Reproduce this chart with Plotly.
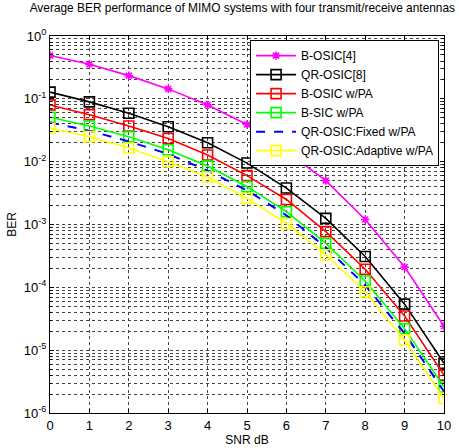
import plotly.graph_objects as go

snr = [0, 1, 2, 3, 4, 5, 6, 7, 8, 9, 10]

b_osic4 = [0.49, 0.355, 0.234, 0.144, 0.080, 0.039, 0.0145, 0.0050, 0.0012, 2.1e-4, 2.4e-5]
qr_osic8 = [0.128, 0.0895, 0.059, 0.036, 0.020, 0.0095, 0.0038, 0.00125, 3.1e-4, 5.4e-5, 6.2e-6]
b_osic_pa = [0.080, 0.056, 0.037, 0.0234, 0.0128, 0.0060, 0.0025, 7.7e-4, 1.94e-4, 3.5e-5, 4.0e-6]
b_sic_pa = [0.051, 0.037, 0.025, 0.0155, 0.0085, 0.0040, 0.0016, 5.0e-4, 1.26e-4, 2.2e-5, 2.6e-6]
qr_fixed_pa = [0.042, 0.031, 0.021, 0.0132, 0.0072, 0.0035, 0.0014, 4.3e-4, 1.08e-4, 1.85e-5, 2.2e-6]
qr_adapt_pa = [0.034, 0.025, 0.0165, 0.010, 0.0057, 0.0026, 0.00104, 3.3e-4, 8.5e-5, 1.45e-5, 1.7e-6]

decade_exponents = [-6, -5, -4, -3, -2, -1, 0]
decade_labels = ["10<sup>-6</sup>", "10<sup>-5</sup>", "10<sup>-4</sup>", "10<sup>-3</sup>",
                 "10<sup>-2</sup>", "10<sup>-1</sup>", "10<sup>0</sup>"]

ytick_vals = [10.0 ** e for e in decade_exponents]
# minor tick / grid positions (2..9 within each decade)
yminor_vals = [k * 10.0 ** e for e in decade_exponents if e < 0 for k in range(2, 10)]

series = [
    ("B-OSIC[4]", b_osic4, "#ff00ff", "solid", "asterisk-open", 7),
    ("QR-OSIC[8]", qr_osic8, "#000000", "solid", "square-open", 10),
    ("B-OSIC w/PA", b_osic_pa, "#ff0000", "solid", "square-open", 10),
    ("B-SIC w/PA", b_sic_pa, "#00ff00", "solid", "square-open", 10),
    ("QR-OSIC:Fixed w/PA", qr_fixed_pa, "#0000ff", "dash", None, 0),
    ("QR-OSIC:Adaptive w/PA", qr_adapt_pa, "#ffff00", "solid", "square-open", 10),
]

fig = go.Figure()
for name, vals, color, dash, sym, size in series:
    if sym:
        fig.add_trace(go.Scatter(
            x=snr, y=vals, name=name, mode="lines+markers",
            line=dict(color=color, width=1.6, dash=dash),
            marker=dict(symbol=sym, size=size, color=color, line=dict(width=1.6, color=color)),
        ))
    else:
        fig.add_trace(go.Scatter(
            x=snr, y=vals, name=name, mode="lines",
            line=dict(color=color, width=2, dash=dash),
        ))

font = "Liberation Sans, Arial, sans-serif"
fig.update_layout(
    width=459, height=448,
    margin=dict(l=50, r=15, t=36, b=35),
    paper_bgcolor="white", plot_bgcolor="white",
    font=dict(family=font, size=12, color="black"),
    title=dict(text="Average BER performance of MIMO systems with four transmit/receive antennas",
               x=0.528, xanchor="center", y=0.992, yanchor="top",
               font=dict(family=font, size=11.9, color="black"), automargin=False),
    showlegend=True,
    legend=dict(x=0.9875, xanchor="right", y=0.989, yanchor="top",
                bgcolor="white", bordercolor="black", borderwidth=1,
                font=dict(family=font, size=12, color="black"),
                tracegroupgap=0, itemwidth=40),
    xaxis=dict(range=[0, 10], tickvals=snr, ticks="inside", ticklen=4, tickcolor="black",
               showline=True, linecolor="black", linewidth=1, mirror="ticks",
               showgrid=True, gridcolor="#444444", griddash="dot", gridwidth=1,
               zeroline=False, automargin=False,
               title=dict(text="SNR dB", standoff=4, font=dict(size=12)),
               tickfont=dict(size=13)),
    yaxis=dict(type="log", range=[-6, 0], tickvals=ytick_vals, ticktext=decade_labels,
               ticks="inside", ticklen=4, tickcolor="black",
               showline=True, linecolor="black", linewidth=1, mirror="ticks",
               showgrid=True, gridcolor="#444444", griddash="dot", gridwidth=1,
               minor=dict(tickmode="array", tickvals=yminor_vals, ticks="inside", ticklen=2,
                          tickcolor="black", showgrid=True, gridcolor="#444444",
                          griddash="dot", gridwidth=1),
               zeroline=False, automargin=False,
               title=dict(text="BER", standoff=4, font=dict(size=12)),
               tickfont=dict(size=13)),
)

fig.write_html("out.html", config={"displayModeBar": False},
               post_script="document.body.style.margin='0';")
